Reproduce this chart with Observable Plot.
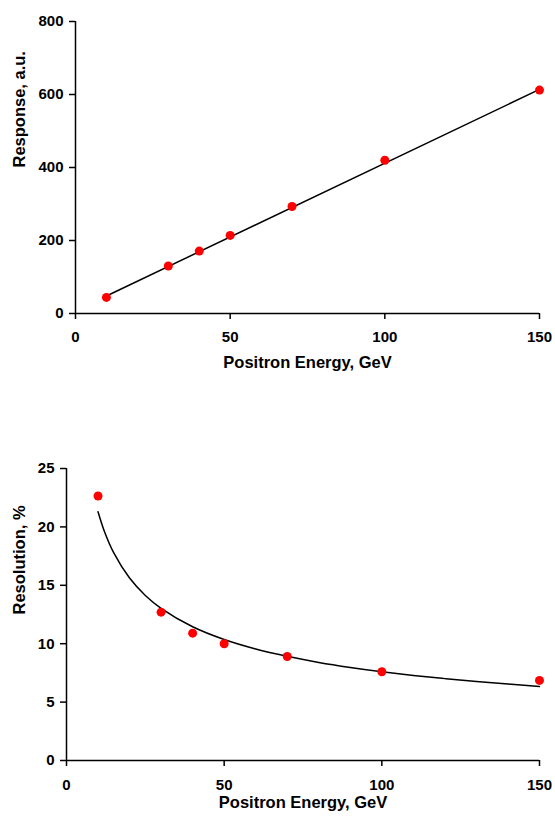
<!DOCTYPE html>
<html><head><meta charset="utf-8">
<script src="https://cdn.jsdelivr.net/npm/d3@7"></script>
<script src="https://cdn.jsdelivr.net/npm/@observablehq/plot@0.6"></script>
<style>body{margin:0;background:#fff} #chart{width:555px} svg{display:block}</style>
</head><body><div id="chart"></div>
<script>
const energy = [10, 30, 40, 50, 70, 100, 150];
const response = [44, 130, 171, 214, 293, 420, 612];
const resolution = [22.65, 12.7, 10.9, 10.0, 8.9, 7.6, 6.86];
const responseFitEnergy = [10, 150];
const responseFitValue = [48, 614];
const resolutionFitEnergy = [10, 12, 15, 20, 25, 30, 40, 50, 60, 70, 80, 90, 100, 110, 120, 130, 140, 150];
const resolutionFitValue = [21.3, 19.63, 17.77, 15.62, 14.13, 13.03, 11.45, 10.36, 9.55, 8.92, 8.40, 7.97, 7.60, 7.28, 7.01, 6.76, 6.54, 6.34];
const xTicks = [0, 50, 100, 150];
const responseTicks = [0, 200, 400, 600, 800];
const resolutionTicks = [0, 5, 10, 15, 20, 25];
const xTitle = "Positron Energy, GeV";
const responseTitle = "Response, a.u.";
const resolutionTitle = "Resolution, %";

const pts1 = energy.map((e, i) => ({e, v: response[i]}));
const fit1 = responseFitEnergy.map((e, i) => ({e, v: responseFitValue[i]}));
const pts2 = energy.map((e, i) => ({e, v: resolution[i]}));
const fit2 = resolutionFitEnergy.map((e, i) => ({e, v: resolutionFitValue[i]}));

const style = {fontFamily: "'Liberation Sans', Arial, sans-serif", fontWeight: "bold", fontSize: "15px", color: "#000", background: "#fff", overflow: "visible"};

function panel(opts) {
  return Plot.plot({
    width: 555, height: opts.height,
    marginTop: opts.mt, marginLeft: opts.ml, marginRight: 16, marginBottom: opts.mb,
    style,
    x: {domain: [0, 150]},
    y: {domain: opts.ydomain},
    marks: [
      Plot.axisX({ticks: xTicks, tickSize: 6, tickPadding: opts.xpad, label: null, stroke: "#000", strokeWidth: 1.5, fill: "#000", fontSize: 15, fontWeight: "bold"}),
      Plot.axisY({ticks: opts.yticks, tickSize: 6, tickPadding: 6, label: null, stroke: "#000", strokeWidth: 1.5, fill: "#000", fontSize: 15, fontWeight: "bold"}),
      Plot.ruleY([opts.ydomain[0]], {stroke: "#000", strokeWidth: 1.5}),
      Plot.ruleX([0], {stroke: "#000", strokeWidth: 1.5}),
      Plot.line(opts.fit, {x: "e", y: "v", stroke: "#000", strokeWidth: 1.5, curve: opts.curve}),
      Plot.dot(opts.pts, {x: "e", y: "v", r: 4.5, fill: "#ff0000", stroke: "none"}),
      Plot.text([xTitle], {text: d => d, frameAnchor: "bottom", dy: opts.xtdy, fontSize: 16.5, fontWeight: "bold", fill: "#000"}),
      Plot.text([opts.ytitle], {text: d => d, frameAnchor: "left", dx: opts.ytdx, rotate: -90, fontSize: 16.5, fontWeight: "bold", fill: "#000"})
    ]
  });
}

const chart = document.getElementById("chart");
chart.append(panel({height: 400, mt: 21, ml: 75, mb: 87, ydomain: [0, 800], yticks: responseTicks, fit: fit1, pts: pts1, curve: "linear", ytitle: responseTitle, xpad: 12, xtdy: 54, ytdx: -56}));
chart.append(panel({height: 423, mt: 68, ml: 66, mb: 63, ydomain: [0, 25], yticks: resolutionTicks, fit: fit2, pts: pts2, curve: "catmull-rom", ytitle: resolutionTitle, xpad: 13, xtdy: 47, ytdx: -47}));
</script></body></html>
